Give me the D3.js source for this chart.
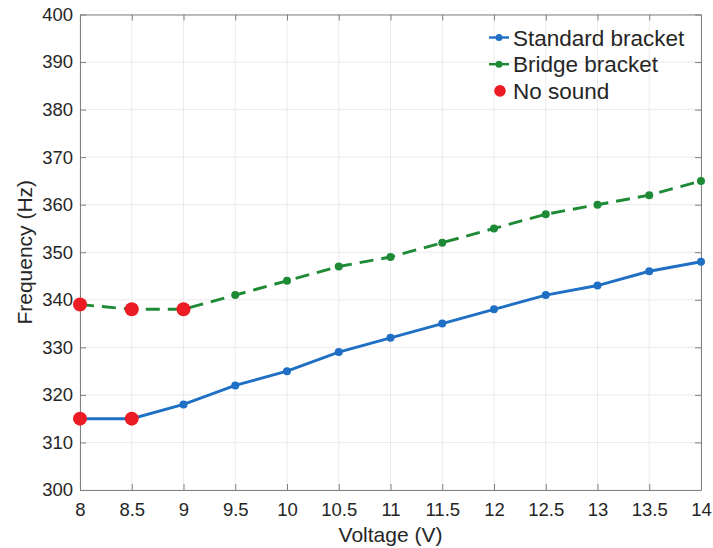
<!DOCTYPE html>
<html>
<head>
<meta charset="utf-8">
<script src="https://cdn.jsdelivr.net/npm/d3@7"></script>
<style>
  body { margin: 0; background: #fff; }
  text { font-family: "Liberation Sans", Arial, sans-serif; fill: #262626; }
</style>
</head>
<body>
<div id="chart"></div>
<script>
const voltage = [8, 8.5, 9, 9.5, 10, 10.5, 11, 11.5, 12, 12.5, 13, 13.5, 14];
const standardFreq = [315, 315, 318, 322, 325, 329, 332, 335, 338, 341, 343, 346, 348];
const bridgeFreq = [339, 338, 338, 341, 344, 347, 349, 352, 355, 358, 360, 362, 365];
const noSoundX = [8, 8.5, 8, 8.5, 9];
const noSoundY = [315, 315, 339, 338, 338];
const xTicks = [8, 8.5, 9, 9.5, 10, 10.5, 11, 11.5, 12, 12.5, 13, 13.5, 14];
const yTicks = [300, 310, 320, 330, 340, 350, 360, 370, 380, 390, 400];

const width = 713, height = 548;
const margin = { left: 80, right: 12, top: 14.5, bottom: 58 };
const iw = width - margin.left - margin.right;
const ih = height - margin.top - margin.bottom;

const svg = d3.select("#chart").append("svg")
  .attr("width", width).attr("height", height);
const g = svg.append("g").attr("transform", `translate(${margin.left},${margin.top})`);

const x = d3.scaleLinear().domain([8, 14]).range([0, iw]);
const y = d3.scaleLinear().domain([300, 400]).range([ih, 0]);

// grid
g.append("g").selectAll("line").data(xTicks).join("line")
  .attr("x1", d => x(d)).attr("x2", d => x(d)).attr("y1", 0).attr("y2", ih)
  .attr("stroke", "#ebebeb").attr("stroke-width", 1);
g.append("g").selectAll("line").data(yTicks).join("line")
  .attr("y1", d => y(d)).attr("y2", d => y(d)).attr("x1", 0).attr("x2", iw)
  .attr("stroke", "#ebebeb").attr("stroke-width", 1);

// axes with inward ticks
const axisColor = "#808080";
function styleAxis(sel) {
  sel.select(".domain").attr("stroke", axisColor);
  sel.selectAll(".tick line").attr("stroke", axisColor);
  sel.selectAll(".tick text").style("font-size", "18.5px").attr("fill", "#262626")
    .attr("font-family", "Liberation Sans, Arial, sans-serif");
}
g.append("g").attr("transform", `translate(0,${ih})`)
  .call(d3.axisBottom(x).tickValues(xTicks).tickSizeInner(-6).tickSizeOuter(0).tickPadding(12.5).tickFormat(d3.format("~g")))
  .call(styleAxis);
g.append("g")
  .call(d3.axisLeft(y).tickValues(yTicks).tickSizeInner(-6).tickSizeOuter(0).tickPadding(7))
  .call(styleAxis);
g.append("g")
  .call(d3.axisTop(x).tickValues(xTicks).tickSizeInner(-6).tickSizeOuter(0).tickFormat(""))
  .call(styleAxis);
g.append("g").attr("transform", `translate(${iw},0)`)
  .call(d3.axisRight(y).tickValues(yTicks).tickSizeInner(-6).tickSizeOuter(0).tickFormat(""))
  .call(styleAxis);

const blue = "#1f6fc4", green = "#1e8a35", red = "#ec1c24";

const line = d3.line().x(d => x(d[0])).y(d => y(d[1]));
const std = voltage.map((v, i) => [v, standardFreq[i]]);
const brg = voltage.map((v, i) => [v, bridgeFreq[i]]);

g.append("path").datum(std).attr("d", line)
  .attr("fill", "none").attr("stroke", blue).attr("stroke-width", 2.9);
g.append("g").selectAll("circle").data(std).join("circle")
  .attr("cx", d => x(d[0])).attr("cy", d => y(d[1])).attr("r", 4).attr("fill", blue);

g.append("path").datum(brg).attr("d", line)
  .attr("fill", "none").attr("stroke", green).attr("stroke-width", 2.9)
  .attr("stroke-dasharray", "14,8");
g.append("g").selectAll("circle").data(brg).join("circle")
  .attr("cx", d => x(d[0])).attr("cy", d => y(d[1])).attr("r", 4).attr("fill", green);

g.append("g").selectAll("circle").data(noSoundX).join("circle")
  .attr("cx", d => x(d)).attr("cy", (d, i) => y(noSoundY[i])).attr("r", 7).attr("fill", red);

// axis labels
svg.append("text").attr("x", margin.left + iw / 2).attr("y", 542)
  .attr("text-anchor", "middle").style("font-size", "21px").text("Voltage (V)");
svg.append("text").attr("transform", `translate(32,${margin.top + ih / 2}) rotate(-90)`)
  .attr("text-anchor", "middle").style("font-size", "21px").text("Frequency (Hz)");

// legend
const legend = [
  { name: "Standard bracket", color: blue, kind: "line" },
  { name: "Bridge bracket", color: green, kind: "line" },
  { name: "No sound", color: red, kind: "dot" }
];
const lg = svg.append("g").attr("transform", "translate(489,37.5)");
legend.forEach((d, i) => {
  const row = lg.append("g").attr("transform", `translate(0,${i * 26.7})`);
  if (d.kind === "line") {
    row.append("line").attr("x1", 0).attr("x2", 20).attr("y1", 0).attr("y2", 0)
      .attr("stroke", d.color).attr("stroke-width", 2.4);
    row.append("circle").attr("cx", 10).attr("cy", 0).attr("r", 3.5).attr("fill", d.color);
  } else {
    row.append("circle").attr("cx", 11).attr("cy", 0).attr("r", 5.8).attr("fill", d.color);
  }
  row.append("text").attr("x", 24).attr("y", 0).attr("dy", "0.36em")
    .style("font-size", "22.5px").text(d.name);
});
</script>
</body>
</html>
